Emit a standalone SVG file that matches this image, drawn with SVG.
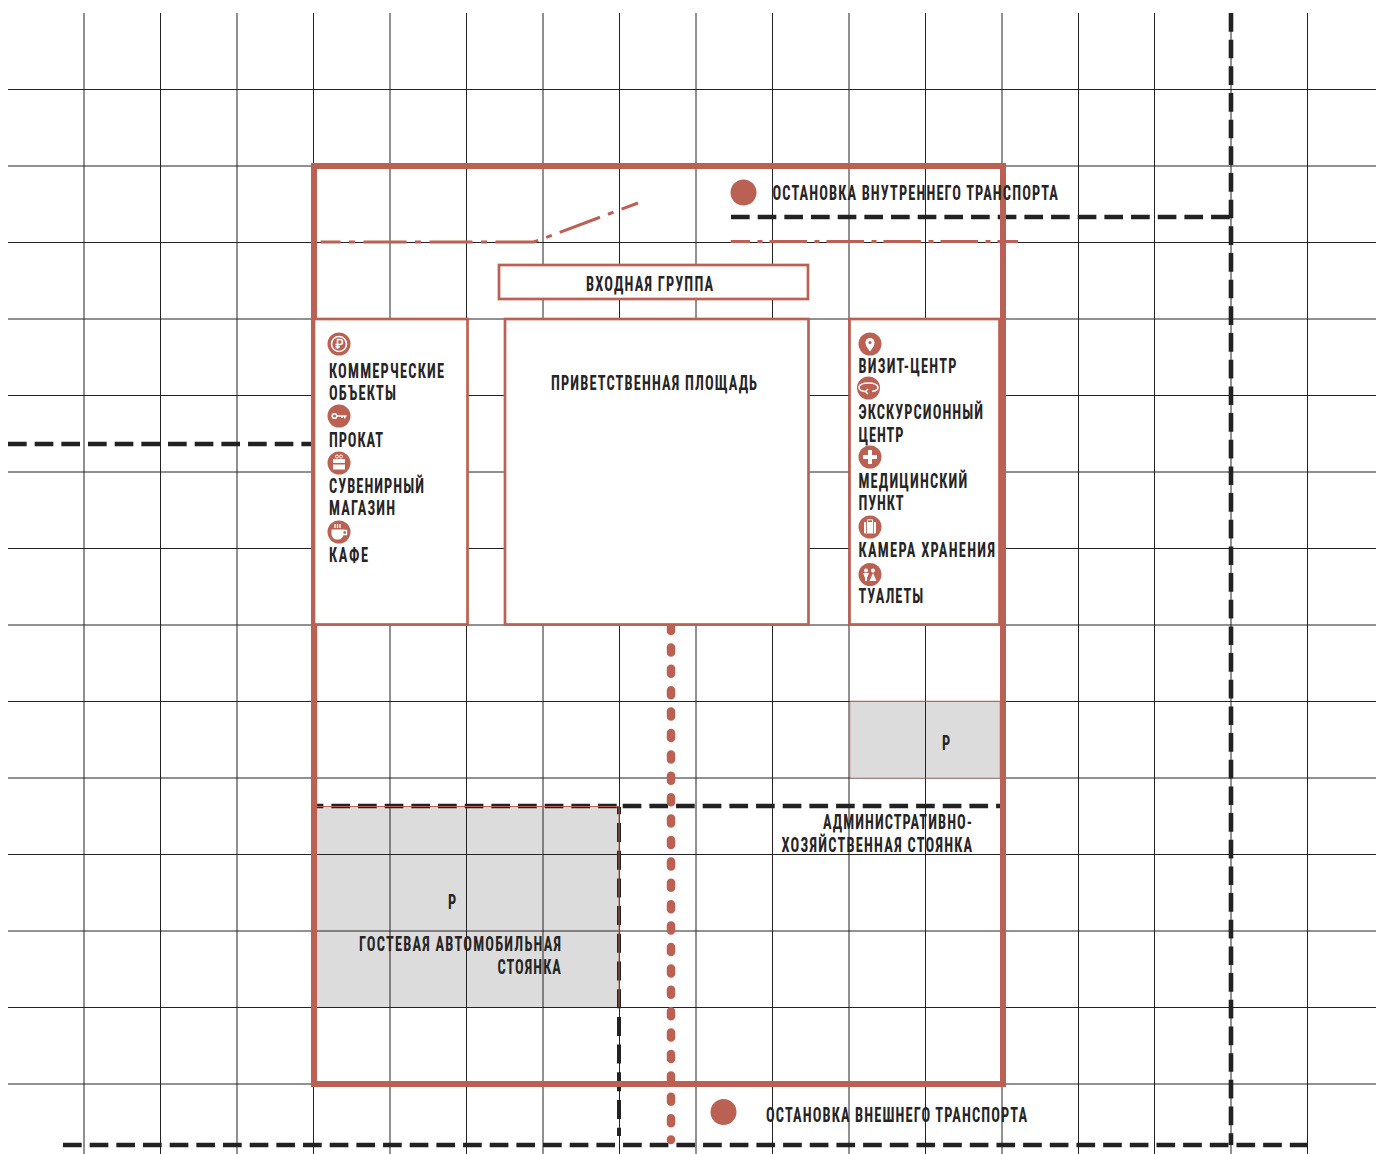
<svg xmlns="http://www.w3.org/2000/svg" width="1376" height="1154" viewBox="0 0 1376 1154">
<defs><style>
.g{stroke:#222;stroke-width:1;fill:none}
.b{fill:none;stroke:#bb6153;stroke-width:2.700}
.o{fill:none;stroke:#bb6153;stroke-width:6}
.d{fill:none;stroke:#222;stroke-width:4.600;stroke-dasharray:18.670 8}
.t{font-family:"Liberation Sans Narrow","Roboto Condensed","Liberation Sans",sans-serif;font-weight:700;font-size:20px;fill:#262425}
.i{fill:#bb6153}
.w{fill:#fff}
.wl{fill:none;stroke:#fff;stroke-width:1.600}
.p{fill:#dcdcdc}
</style></defs>
<rect width="1376" height="1154" fill="#fff"/>
<g id="grid" class="g">
<path d="M84 13V1154M160.500 13V1154M237 13V1154M313.500 13V1154M390 13V1154M466.500 13V1154M543 13V1154M619.500 13V1154M696 13V1154M772.500 13V1154M849 13V1154M925.500 13V1154M1002 13V1154M1078.500 13V1154M1154.500 13V1154M1231 13V1154M1307.500 13V1154"/>
<path d="M8 89.500H1376M8 166H1376M8 242.500H1376M8 319H1376M8 395.500H1376M8 472H1376M8 548.500H1376M8 625H1376M8 701.500H1376M8 778H1376M8 854.500H1376M8 931H1376M8 1007.500H1376M8 1084H1376"/>
</g>
<g id="parking-guest"><rect class="p" x="316" y="806" width="303" height="201"/>
<path class="g" d="M390 806V1007M466.500 806V1007M543 806V1007M316 854.500H619M316 931H619"/></g>
<g id="parking-admin"><rect class="p" x="850" y="701.500" width="150" height="76.500"/><path class="g" d="M925.500 701.500V778"/>
<rect x="850" y="701" width="150" height="77" fill="none" stroke="#bb6153" stroke-width=".5"/></g>
<g id="connectors">
<path class="d" d="M731 217H1231"/>
<path class="d" d="M1231 13V1145"/>
<path class="d" d="M8 444H313"/>
<path class="d" d="M63 1145H1307.500"/>
<path class="d" style="stroke-dashoffset:11.300" d="M316 806H619"/>
<path class="d" d="M622.700 806H1002"/>
<path class="d" style="stroke-width:4;stroke-dasharray:19 8.700;stroke-dashoffset:11.700" d="M619 807V1136"/>
<path fill="none" stroke="#bb6153" stroke-width="1" d="M316 806.500H619V1007"/>
<path fill="none" stroke="#bb6153" stroke-width="3" stroke-dasharray="43 8.500 6 8.500" stroke-dashoffset="23" d="M320.500 242H534L638 203"/>
<path fill="none" stroke="#bb6153" stroke-width="3" stroke-dasharray="37.500 7.500 5 7" stroke-dashoffset="18.200" d="M730.700 241.500H1018"/>
<path fill="none" stroke="#bb6153" stroke-width="1.500" d="M316.500 625V806"/>
<path fill="none" stroke="#bb6153" stroke-width="8.500" stroke-linecap="round" stroke-dasharray="5 16.400" d="M671 626V1140"/>
</g>
<g id="site"><rect class="o" x="314" y="166" width="689" height="918"/></g>
<g id="entrance"><rect class="b" style="fill:#fff" x="499" y="265" width="309" height="34"/><text class="t" transform="translate(586 291) scale(.72 1)" textLength="176.400">ВХОДНАЯ ГРУППА</text></g>
<g id="plaza"><rect class="b" style="fill:#fff" x="505" y="319" width="303.500" height="305.500"/><text class="t" transform="translate(551 390) scale(.72 1)" textLength="286.100">ПРИВЕТСТВЕННАЯ ПЛОЩАДЬ</text></g>
<g id="left-block"><rect class="b" style="fill:#fff" x="314" y="319" width="153.500" height="305.500"/>
<circle class="i" cx="339" cy="344" r="11.500"/><circle class="wl" cx="339" cy="344" r="7.500"/><path class="wl" d="M337.500 349V339.500H340a2.400 2.400 0 0 1 0 5H335.500M335.500 346.800H340"/>
<circle class="i" cx="339" cy="416" r="11.500"/><circle class="wl" cx="334.500" cy="416" r="2.300"/><path class="wl" d="M337 416H346.500M344.800 416V418.500M342 416V418"/>
<circle class="i" cx="339" cy="463" r="11.500"/><path class="w" d="M333 459H345V469.500H333Z"/><path class="i" d="M333 463H345V464.500H333Z"/><circle class="wl" style="stroke-width:1" cx="337" cy="456.500" r="1.500"/><circle class="wl" style="stroke-width:1" cx="341" cy="456.500" r="1.500"/>
<circle class="i" cx="339" cy="532" r="11.500"/><path class="w" d="M331.500 529.500H343.500V534A5.500 5.500 0 0 1 338 539.500H337A5.500 5.500 0 0 1 331.500 534Z"/><path class="wl" style="stroke-width:1.300" d="M343 530.500H346.500V534.500H342M335 524V528M337.500 524V528M340 524V528"/>
<text class="t" transform="translate(329 378) scale(.72 1)" textLength="159.700">КОММЕРЧЕСКИЕ</text>
<text class="t" transform="translate(329 400) scale(.72 1)" textLength="93.100">ОБЪЕКТЫ</text>
<text class="t" transform="translate(329 446.500) scale(.72 1)" textLength="75">ПРОКАТ</text>
<text class="t" transform="translate(329 493) scale(.72 1)" textLength="131.900">СУВЕНИРНЫЙ</text>
<text class="t" transform="translate(329 515) scale(.72 1)" textLength="91.700">МАГАЗИН</text>
<text class="t" transform="translate(329 562) scale(.72 1)" textLength="54.200">КАФЕ</text></g>
<g id="right-block"><rect class="b" style="fill:#fff" x="849.500" y="319" width="150" height="305.500"/>
<circle class="i" cx="870" cy="344" r="11.500"/><path class="w" d="M870 351.500C867 347.500 865.500 345.500 865.500 342.500A4.500 4.500 0 0 1 874.500 342.500C874.500 345.500 873 347.500 870 351.500Z"/><circle class="i" cx="870" cy="342.500" r="1.600"/>
<circle class="i" cx="868.500" cy="388" r="11.500"/><path class="wl" d="M872 391.500C877 390.500 878.500 389 878 387C877 384 873 383 868.500 383C864 383 860 384 859 387C858.500 390 862 391.500 866 391.500M868 389L865.500 391.500L868 394"/>
<circle class="i" cx="870" cy="457" r="11.500"/><path class="w" d="M868 450H872V455H877V459H872V464H868V459H863V455H868Z"/>
<circle class="i" cx="870" cy="527" r="11.500"/><rect class="w" x="864" y="522" width="12" height="11.500" rx="1"/><path class="wl" style="stroke-width:1" d="M867.500 522V519.800H872.500V522"/><path class="i" d="M866 522H866.800V533.500H866ZM873.200 522H874V533.500H873.200Z"/>
<circle class="i" cx="870" cy="574.500" r="11.500"/><circle class="w" cx="866" cy="570.500" r="2"/><circle class="w" cx="873" cy="570.500" r="2"/><path class="w" d="M863 573H869L867 578V581H865V578ZM873 573L876.500 581H869.500Z"/>
<text class="t" transform="translate(858.500 373) scale(.72 1)" textLength="136.100">ВИЗИТ-ЦЕНТР</text>
<text class="t" transform="translate(858.500 419) scale(.72 1)" textLength="173">ЭКСКУРСИОННЫЙ</text>
<text class="t" transform="translate(858.500 442) scale(.72 1)" textLength="62.500">ЦЕНТР</text>
<text class="t" transform="translate(858.500 488) scale(.72 1)" textLength="151">МЕДИЦИНСКИЙ</text>
<text class="t" transform="translate(858.500 510) scale(.72 1)" textLength="62.500">ПУНКТ</text>
<text class="t" transform="translate(858.500 557) scale(.72 1)" textLength="189.500">КАМЕРА ХРАНЕНИЯ</text>
<text class="t" transform="translate(858.500 603) scale(.72 1)" textLength="90">ТУАЛЕТЫ</text></g>
<g id="stop-internal"><circle class="i" cx="743.500" cy="192.500" r="13"/><text class="t" transform="translate(772.500 200) scale(.72 1)" textLength="396.500">ОСТАНОВКА ВНУТРЕННЕГО ТРАНСПОРТА</text></g>
<g id="stop-external"><circle class="i" cx="723.500" cy="1112" r="13"/><text class="t" transform="translate(766 1122) scale(.72 1)" textLength="362.500">ОСТАНОВКА ВНЕШНЕГО ТРАНСПОРТА</text></g>
<g id="labels-parking">
<text class="t" transform="translate(942 750) scale(.72 1)" textLength="10.400">Р</text>
<text class="t" transform="translate(823 829) scale(.72 1)" textLength="206.900">АДМИНИСТРАТИВНО-</text>
<text class="t" transform="translate(781.500 852) scale(.72 1)" textLength="264.800">ХОЗЯЙСТВЕННАЯ СТОЯНКА</text>
<text class="t" transform="translate(448 909) scale(.72 1)" textLength="10.400">Р</text>
<text class="t" transform="translate(359 951) scale(.72 1)" textLength="280.600">ГОСТЕВАЯ АВТОМОБИЛЬНАЯ</text>
<text class="t" transform="translate(497.500 974) scale(.72 1)" textLength="88">СТОЯНКА</text></g>
</svg>
